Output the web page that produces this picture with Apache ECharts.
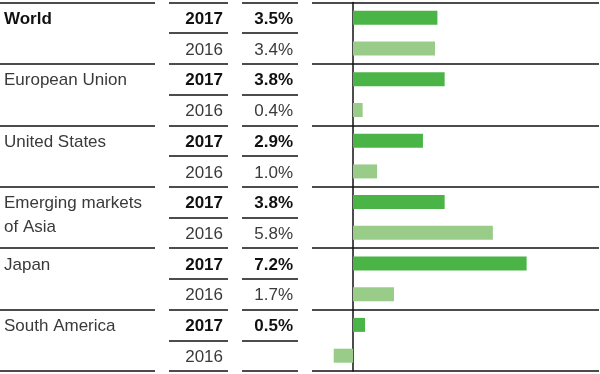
<!DOCTYPE html>
<html><head><meta charset="utf-8">
<script src="https://cdn.jsdelivr.net/npm/echarts@6/dist/echarts.min.js"></script>
<style>html,body{margin:0;padding:0;background:#fff}#c{width:600px;height:374px}</style>
</head><body><div id="c"></div>
<script>
// ---- data ----
const regions = ['World', 'European Union', 'United States', 'Emerging markets\nof Asia', 'Japan', 'South America'];
const years = ['2017', '2016'];
const values2017 = [3.5, 3.8, 2.9, 3.8, 7.2, 0.5];
const values2016 = [3.4, 0.4, 1.0, 5.8, 1.7, -0.8];
const show2016Label = [true, true, true, true, true, false];
const xMin = -1.7, xMax = 10.2;

// ---- styling ----
const FONT = 'Liberation Sans, Arial, sans-serif';
const DARK = '#4bb446', LIGHT = '#99cc88';
const LINE = { color: '#111', width: 1.5 };
const rich = {
  b: { fontFamily: FONT, fontSize: 17, fontWeight: 'bold', color: '#111' },
  r: { fontFamily: FONT, fontSize: 17, color: '#3a3a3a' }
};

const rowIds = [];
regions.forEach((_, g) => years.forEach((_, k) => rowIds.push(String(g * 2 + k))));
const groupIds = regions.map((_, g) => String(g));

function nameLabel(r) {
  const g = Math.floor(r / 2), lines = regions[g].split('\n');
  const t = lines[r % 2] || '';
  if (!t) return '';
  return (g === 0 ? '{b|' : '{r|') + t + '}';
}
function yearLabel(r) {
  return (r % 2 === 0 ? '{b|' : '{r|') + years[r % 2] + '}';
}
function valueLabel(r) {
  const g = Math.floor(r / 2);
  if (r % 2 === 0) return '{b|' + values2017[g].toFixed(1) + '%}';
  return show2016Label[g] ? '{r|' + values2016[g].toFixed(1) + '%}' : '';
}

const nameRows = rowIds.map(id => {
  const r = +id, g = Math.floor(r / 2);
  if (r % 2 === 1 && regions[g].includes('\n')) return { value: id, textStyle: { padding: [0, 0, 12, 0] } };
  return id;
});

const TOP = 2.5, H = 368.5;
const LABEL_PAD = [3, 0, 0, 0];
const chart = echarts.init(document.getElementById('c'), null, { renderer: 'canvas' });
chart.setOption({
  animation: false,
  grid: [
    { left: 0, top: TOP, width: 155, height: H },
    { left: 169, top: TOP, width: 59, height: H },
    { left: 242, top: TOP, width: 56, height: H },
    { left: 312, top: TOP, width: 287, height: H }
  ],
  xAxis: [
    { gridIndex: 0, type: 'value', min: 0, max: 1, show: false },
    { gridIndex: 1, type: 'value', min: 0, max: 1, show: false },
    { gridIndex: 2, type: 'value', min: 0, max: 1, show: false },
    { gridIndex: 3, type: 'value', min: xMin, max: xMax, show: true,
      axisLine: { show: false }, axisTick: { show: false }, axisLabel: { show: false }, splitLine: { show: false } }
  ],
  yAxis: [
    { gridIndex: 0, type: 'category', inverse: true, data: nameRows, position: 'left',
      axisLine: { show: false }, axisTick: { show: false },
      splitLine: { show: true, interval: 1, lineStyle: LINE },
      axisLabel: { inside: true, margin: 4, padding: LABEL_PAD, formatter: (v) => nameLabel(+v), rich: rich } },
    { gridIndex: 1, type: 'category', inverse: true, data: rowIds, position: 'right',
      axisLine: { show: false }, axisTick: { show: false },
      splitLine: { show: true, interval: 0, lineStyle: LINE },
      axisLabel: { inside: true, margin: 5, padding: LABEL_PAD, formatter: (v) => yearLabel(+v), rich: rich } },
    { gridIndex: 2, type: 'category', inverse: true, data: rowIds, position: 'right',
      axisLine: { show: false }, axisTick: { show: false },
      splitLine: { show: true, interval: 0, lineStyle: LINE },
      axisLabel: { inside: true, margin: 5, padding: LABEL_PAD, formatter: (v) => valueLabel(+v), rich: rich } },
    { gridIndex: 3, type: 'category', inverse: true, data: groupIds,
      axisLine: { show: true, onZero: true, lineStyle: LINE }, axisTick: { show: false },
      axisLabel: { show: false },
      splitLine: { show: true, interval: 0, lineStyle: LINE } }
  ],
  series: [
    { name: '2017', type: 'bar', xAxisIndex: 3, yAxisIndex: 3, data: values2017,
      barWidth: 14, barGap: '120%', itemStyle: { color: DARK } },
    { name: '2016', type: 'bar', xAxisIndex: 3, yAxisIndex: 3, data: values2016,
      barWidth: 14, barGap: '120%', itemStyle: { color: LIGHT } }
  ]
});
</script></body></html>
